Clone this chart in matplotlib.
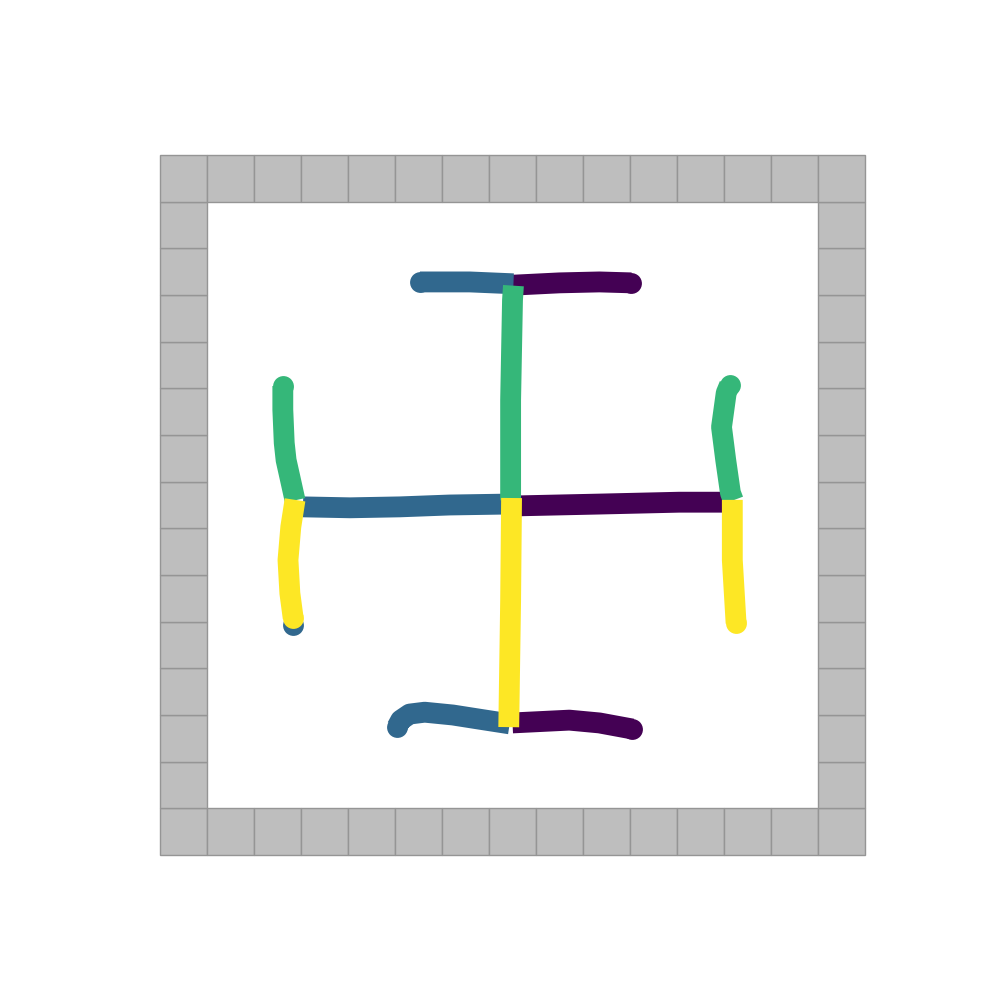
import matplotlib
matplotlib.use("Agg")
import matplotlib.pyplot as plt
from matplotlib.patches import Rectangle

# grid size (cells), walls on the border
n_cells = 15

# trajectories, one colour per heading
east_color = "#440154"
west_color = "#31688e"
north_color = "#35b779"
south_color = "#fde725"

# east (purple)
east_top_x = [7.50, 8.50, 9.35, 10.03]
east_top_y = [12.21, 12.26, 12.28, 12.26]
east_mid_x = [7.55, 9.35, 11.05, 12.01]
east_mid_y = [7.48, 7.52, 7.56, 7.56]
east_bot_x = [7.50, 8.71, 9.35, 10.05]
east_bot_y = [2.83, 2.89, 2.83, 2.70]

# west (blue)
west_top_x = [7.52, 6.59, 5.95, 5.53]
west_top_y = [12.24, 12.28, 12.28, 12.28]
west_mid_x = [7.40, 6.16, 5.10, 4.04, 3.04]
west_mid_y = [7.52, 7.50, 7.46, 7.44, 7.46]
west_bot_x = [7.44, 6.80, 6.23, 5.63, 5.31, 5.12, 5.04]
west_bot_y = [2.81, 2.91, 3.00, 3.06, 3.02, 2.89, 2.74]
west_dot_x = [2.83]
west_dot_y = [4.93]

# north (green)
north_mid_x = [7.46, 7.46, 7.50, 7.52]
north_mid_y = [7.60, 9.75, 11.89, 12.20]
north_left_x = [2.87, 2.76, 2.68, 2.64, 2.61, 2.61, 2.61]
north_left_y = [7.60, 8.10, 8.46, 8.83, 9.54, 9.90, 10.05]
north_right_x = [12.20, 12.14, 12.04, 11.95, 12.05, 12.12]
north_right_y = [7.60, 7.76, 8.46, 9.17, 9.90, 10.07]

# south (yellow)
south_mid_x = [7.48, 7.46, 7.42]
south_mid_y = [7.65, 5.46, 2.74]
south_left_x = [2.87, 2.78, 2.72, 2.76, 2.83]
south_left_y = [7.61, 7.03, 6.32, 5.61, 5.08]
south_right_x = [12.18, 12.18, 12.26]
south_right_y = [7.61, 6.32, 4.97]

lw = 15

fig = plt.figure(figsize=(10, 10), dpi=100)
ax = fig.add_subplot(111)

for i in range(n_cells):
    for j in range(n_cells):
        if i in (0, n_cells - 1) or j in (0, n_cells - 1):
            ax.add_patch(Rectangle((i, j), 1, 1, facecolor="#bebebe",
                                   edgecolor="#959595", linewidth=1))


def track(x, y, c, round_end=True):
    ax.plot(x, y, color=c, lw=lw, solid_capstyle="butt", solid_joinstyle="round",
            marker="o" if round_end else None, markevery=[-1], ms=lw, mew=0)


track(east_top_x, east_top_y, east_color)
track(east_mid_x, east_mid_y, east_color, False)
track(east_bot_x, east_bot_y, east_color)

track(west_top_x, west_top_y, west_color)
track(west_mid_x, west_mid_y, west_color, False)
track(west_bot_x, west_bot_y, west_color)
ax.plot(west_dot_x, west_dot_y, "o", color=west_color, ms=lw, mew=0)

track(north_mid_x, north_mid_y, north_color, False)
track(north_left_x, north_left_y, north_color)
track(north_right_x, north_right_y, north_color)

track(south_mid_x, south_mid_y, south_color, False)
track(south_left_x, south_left_y, south_color)
track(south_right_x, south_right_y, south_color)

ax.set_xlim(-0.75, n_cells + 0.75)
ax.set_ylim(-0.75, n_cells + 0.75)
ax.axis("off")

fig.savefig("out.png")
